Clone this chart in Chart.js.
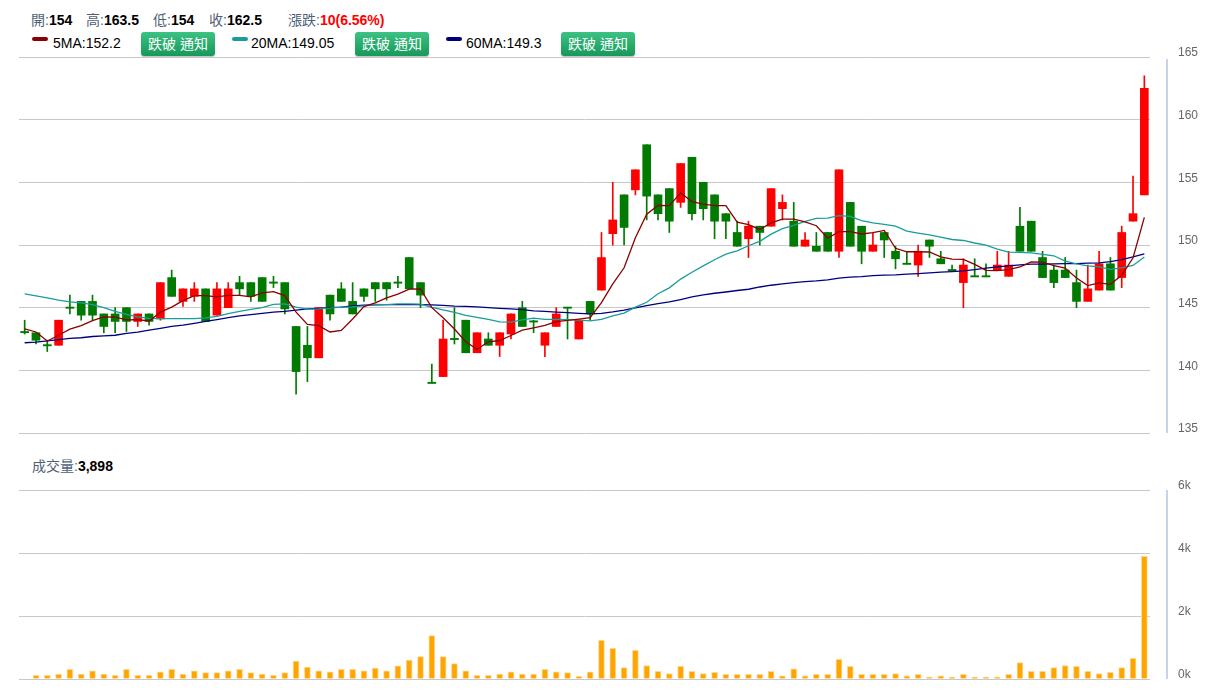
<!DOCTYPE html>
<html><head><meta charset="utf-8">
<script src="https://cdn.jsdelivr.net/npm/chart.js@4.4.1/dist/chart.umd.min.js"></script>
<style>
html,body{margin:0;padding:0;background:#fff;width:1217px;height:691px;overflow:hidden;font-family:"Liberation Sans",Arial,"Noto Sans CJK TC",sans-serif;}
.t{position:absolute;font-size:14px;color:#4f5f78;white-space:nowrap;line-height:16px}
.t b{color:#000}
.t b.red{color:#f00}
.btn{position:absolute;top:32px;width:74px;height:24px;border-radius:3px;background:linear-gradient(#3cc283,#16995a);color:#fff;font-size:14px;line-height:24px;text-align:center;box-shadow:0 1px 1px rgba(0,0,0,.25)}
.sw{position:absolute;top:37px;width:16px;height:4px;border-radius:2px}
#c1{position:absolute;left:0;top:0}
#c2{position:absolute;left:0;top:470px}
</style></head><body>
<div class="t" style="left:31px;top:12px">開:<b>154</b></div>
<div class="t" style="left:86px;top:12px">高:<b>163.5</b></div>
<div class="t" style="left:153px;top:12px">低:<b>154</b></div>
<div class="t" style="left:209px;top:12px">收:<b>162.5</b></div>
<div class="t" style="left:288px;top:12px">漲跌:<b class="red">10(6.56%)</b></div>

<div class="sw" style="left:32px;background:#8b0000"></div>
<div class="t" style="left:53px;top:35px;color:#000">5MA:152.2</div>
<div class="btn" style="left:141px">跌破 通知</div>
<div class="sw" style="left:232px;background:#1a9c9c"></div>
<div class="t" style="left:251px;top:35px;color:#000">20MA:149.05</div>
<div class="btn" style="left:355px">跌破 通知</div>
<div class="sw" style="left:446px;background:#00007f"></div>
<div class="t" style="left:466px;top:35px;color:#000">60MA:149.3</div>
<div class="btn" style="left:561px">跌破 通知</div>

<div class="t" style="left:32px;top:458px">成交量:<b>3,898</b></div>

<canvas id="c1" width="1217" height="441"></canvas>
<canvas id="c2" width="1217" height="221"></canvas>
<script>
const opens = [143.1,143.0,142.0,142.0,145.0,145.5,145.5,144.5,144.5,145.0,143.9,144.5,144.1,147.4,145.5,145.9,146.5,144.4,145.0,147.0,
147.0,147.4,147.0,147.0,143.5,142.0,141.0,146.0,146.5,145.5,146.5,147.0,147.0,147.0,149.0,147.0,139.0,139.5,142.5,144.0,
141.4,142.5,142.0,142.9,145.0,143.9,142.0,143.5,145.0,142.5,145.5,146.4,150.9,154.0,154.4,158.0,154.0,154.5,153.4,157.0,
155.0,154.0,152.5,151.0,150.5,151.5,151.5,152.9,151.9,149.9,149.9,151.0,149.5,153.4,151.5,149.5,151.0,149.5,148.5,148.4,
150.4,148.9,148.0,147.0,147.5,147.5,148.0,147.5,151.5,151.9,149.0,148.0,148.0,147.0,145.5,146.4,148.5,147.4,151.9,154.0];
const highs = [144.0,143.0,142.4,144.0,146.0,145.5,146.0,144.5,145.0,145.0,144.5,144.5,147.0,148.0,146.5,147.0,146.5,147.0,147.0,147.5,
147.0,147.4,147.5,147.0,143.5,143.5,145.0,146.0,147.0,147.0,146.5,147.0,147.0,147.5,149.0,147.0,140.5,144.0,145.0,144.0,
143.0,143.0,143.0,144.5,145.5,144.0,143.0,145.0,145.0,144.0,145.5,151.0,155.0,154.0,156.0,158.0,154.0,154.5,156.5,157.0,
155.0,154.0,152.5,151.9,151.9,151.5,154.5,154.0,153.4,151.0,151.0,151.0,156.0,153.4,151.5,151.0,151.0,149.9,149.5,150.0,
150.4,149.5,148.4,148.9,148.9,148.5,149.5,149.5,153.0,151.9,149.5,148.4,149.0,148.0,148.4,149.5,149.0,151.5,155.5,163.5];
const lows = [142.9,142.1,141.5,142.0,144.5,144.0,144.0,143.0,143.0,143.1,143.5,143.6,144.0,145.9,145.1,145.5,143.9,144.4,145.0,146.0,
145.5,145.5,146.6,144.5,138.1,139.1,141.0,144.0,145.5,144.5,145.5,145.5,145.6,146.6,146.5,145.0,139.0,139.5,142.1,141.4,
141.4,142.0,141.1,142.5,143.5,143.0,141.1,143.5,142.5,142.5,144.0,146.4,150.0,150.0,154.0,152.0,152.0,151.0,153.0,152.0,
152.0,150.5,150.5,149.9,149.0,150.0,151.5,152.0,149.9,149.9,149.5,149.5,149.0,149.9,148.5,149.5,149.0,148.1,148.5,147.5,
149.0,148.5,148.0,145.0,147.5,147.5,148.0,147.5,149.5,149.5,147.4,146.6,147.4,145.0,145.5,146.4,146.4,146.6,151.9,154.0];
const closes = [143.0,142.4,142.0,144.0,145.0,144.4,144.4,143.5,143.9,143.9,144.5,143.9,147.0,145.9,146.5,146.5,143.9,146.5,146.5,146.5,
145.9,145.5,147.0,144.9,139.9,141.0,145.0,144.5,145.5,144.5,145.9,146.5,146.5,147.0,146.5,146.0,139.0,142.5,142.5,141.4,
143.0,142.0,143.0,144.5,143.5,143.9,143.0,144.5,145.0,144.0,144.5,149.0,152.0,151.4,156.0,153.9,152.5,151.9,156.5,152.5,
152.9,151.9,151.9,149.9,151.5,151.0,154.5,153.4,149.9,150.4,149.5,149.5,156.0,149.9,149.5,150.0,150.4,148.9,148.5,149.5,
149.9,148.5,148.0,148.4,147.5,147.5,148.4,148.4,149.5,149.5,147.4,147.0,147.4,145.5,146.5,148.5,146.4,151.0,152.5,162.5];
const volumes = [0,120,120,160,310,160,260,160,120,310,120,120,230,310,160,260,200,200,260,310,
200,160,120,200,570,380,260,230,310,310,260,350,260,420,600,710,1375,710,490,260,
120,120,160,230,160,160,310,230,200,85,230,1230,970,360,910,430,240,175,400,240,
175,210,145,145,145,145,240,100,325,100,145,145,625,400,145,145,145,175,100,145,
60,100,60,145,60,60,60,145,520,240,240,360,430,400,240,175,210,360,655,3898];
const ma5 = [143.3,143.06,142.34,142.8,143.28,143.56,143.96,144.26,144.24,144.02,144.04,143.94,144.64,145.04,145.56,145.96,145.96,145.86,145.98,145.98,
145.86,146.18,146.28,145.96,144.64,143.66,143.56,143.06,143.18,144.10,145.08,145.38,145.78,146.08,146.48,146.50,145.00,144.20,143.30,142.28,
141.68,142.28,142.38,142.78,143.20,143.38,143.58,143.88,143.98,144.08,144.20,145.40,146.90,148.18,150.58,152.46,153.16,153.14,154.16,153.46,
153.26,153.14,153.14,151.82,151.62,151.24,151.76,152.06,152.06,151.84,151.54,150.54,151.06,151.06,150.88,150.98,151.16,149.74,149.46,149.46,
149.44,149.06,148.88,148.86,148.46,147.98,147.96,148.04,148.26,148.66,148.64,148.36,148.16,147.36,146.76,146.98,146.86,147.58,148.98,152.2];
const ma20 = [146.1,145.94,145.78,145.6,145.46,145.38,145.25,145.0,144.7,144.47,144.26,144.15,144.13,144.13,144.13,144.13,144.18,144.31,144.53,144.71,
144.86,145.01,145.26,145.31,145.05,144.88,144.91,144.96,145.04,145.07,145.14,145.27,145.25,145.30,145.30,145.28,145.03,144.83,144.63,144.38,
144.23,144.06,143.86,143.84,144.02,144.16,144.06,144.06,144.04,144.01,143.94,144.07,144.34,144.56,145.04,145.43,146.11,146.58,147.28,147.83,
148.33,148.82,149.27,149.54,149.94,150.29,150.87,151.31,151.56,151.88,152.13,152.15,152.35,152.28,151.95,151.76,151.65,151.50,151.10,150.95,
150.80,150.63,150.44,150.36,150.16,149.99,149.68,149.43,149.41,149.37,149.26,149.14,148.71,148.49,148.34,148.26,148.06,148.17,148.37,149.05];
const ma60 = [142.2,142.25,142.35,142.45,142.55,142.6,142.7,142.75,142.8,142.95,143.05,143.2,143.35,143.5,143.6,143.75,143.9,144.05,144.2,144.35,
144.45,144.55,144.65,144.7,144.8,144.9,144.95,145.0,145.05,145.15,145.2,145.22,145.25,145.25,145.25,145.25,145.22,145.18,145.12,145.1,
145.06,145.0,144.95,144.9,144.85,144.75,144.7,144.65,144.6,144.55,144.5,144.55,144.66,144.8,144.98,145.17,145.33,145.46,145.65,145.86,
146.02,146.15,146.25,146.37,146.47,146.65,146.79,146.89,147.0,147.08,147.13,147.21,147.35,147.43,147.48,147.56,147.6,147.62,147.67,147.72,
147.77,147.83,147.88,147.93,148.04,148.15,148.25,148.33,148.41,148.47,148.47,148.5,148.52,148.52,148.55,148.57,148.68,148.84,149.05,149.3];
const categories = closes.map((_, i) => String(i + 1));
const priceTicks = [135, 140, 145, 150, 155, 160, 165];
const volumeTicks = [0, 2000, 4000, 6000];

const RED = '#ff0000', GREEN = '#007a00';
const candleColors = closes.map((c, i) => c > opens[i] ? RED : GREEN);
const wicks = lows.map((l, i) => [l, highs[i]]);
const bodies = opens.map((o, i) => {
  const c = closes[i];
  if (Math.abs(o - c) < 0.08) { const m = (o + c) / 2; return [m - 0.05, m + 0.05]; }
  return [Math.min(o, c), Math.max(o, c)];
});

const axisLine = {
  id: 'axisLine',
  afterDraw(chart, args, opts) {
    const { ctx, chartArea: a } = chart;
    ctx.save();
    ctx.strokeStyle = '#c5d5e6';
    ctx.lineWidth = 2;
    ctx.beginPath();
    ctx.moveTo(a.right + 17, a.top + (opts.t || 0));
    ctx.lineTo(a.right + 17, a.bottom);
    ctx.stroke();
    ctx.restore();
  }
};

const font = { family: '"Liberation Sans", Arial, sans-serif', size: 12 };
const yGrid = { color: '#c8c8c8', drawTicks: true, tickLength: 28, tickColor: 'rgba(0,0,0,0)' };

new Chart(document.getElementById('c1'), {
  type: 'bar',
  data: {
    labels: categories,
    datasets: [
      { type: 'line', data: ma5, borderColor: '#8b0000', borderWidth: 1.3, pointRadius: 0, tension: 0, order: 0 },
      { type: 'line', data: ma20, borderColor: '#1a9c9c', borderWidth: 1.3, pointRadius: 0, tension: 0, order: 0 },
      { type: 'line', data: ma60, borderColor: '#00007f', borderWidth: 1.3, pointRadius: 0, tension: 0, order: 0 },
      { type: 'bar', data: bodies, backgroundColor: candleColors, barThickness: 8, grouped: false, order: 1 },
      { type: 'bar', data: wicks, backgroundColor: candleColors, barThickness: 1, grouped: false, order: 2 }
    ]
  },
  options: {
    responsive: false, animation: false, events: [],
    layout: { padding: { left: 19, top: 57, bottom: 8, right: 0 } },
    plugins: { legend: { display: false }, tooltip: { enabled: false }, axisLine: { t: 2 } },
    scales: {
      x: { display: false, offset: true },
      y: {
        position: 'right', min: priceTicks[0], max: priceTicks[priceTicks.length - 1],
        afterBuildTicks(s) { s.ticks = priceTicks.map(v => ({ value: v })); },
        ticks: { padding: 0, labelOffset: -4, color: '#666', font },
        grid: yGrid,
        border: { display: false },
        afterFit(s) { s.width = 67; }
      }
    }
  },
  plugins: [axisLine]
});

new Chart(document.getElementById('c2'), {
  type: 'bar',
  data: {
    labels: categories,
    datasets: [
      { data: volumes, backgroundColor: '#ffa500', borderColor: '#ffd890', borderWidth: { left: 1, right: 1, top: 1, bottom: 0 }, barThickness: 6 }
    ]
  },
  options: {
    responsive: false, animation: false, events: [],
    layout: { padding: { left: 19, top: 20, bottom: 12, right: 0 } },
    plugins: { legend: { display: false }, tooltip: { enabled: false }, axisLine: { t: 0 } },
    scales: {
      x: { display: false, offset: true },
      y: {
        position: 'right', min: 0, max: 6000,
        afterBuildTicks(s) { s.ticks = volumeTicks.map(v => ({ value: v })); },
        ticks: { padding: 0, labelOffset: -4, color: '#666', font, callback: v => (v / 1000) + 'k' },
        grid: yGrid,
        border: { display: false },
        afterFit(s) { s.width = 67; }
      }
    }
  },
  plugins: [axisLine]
});
</script>
</body></html>
